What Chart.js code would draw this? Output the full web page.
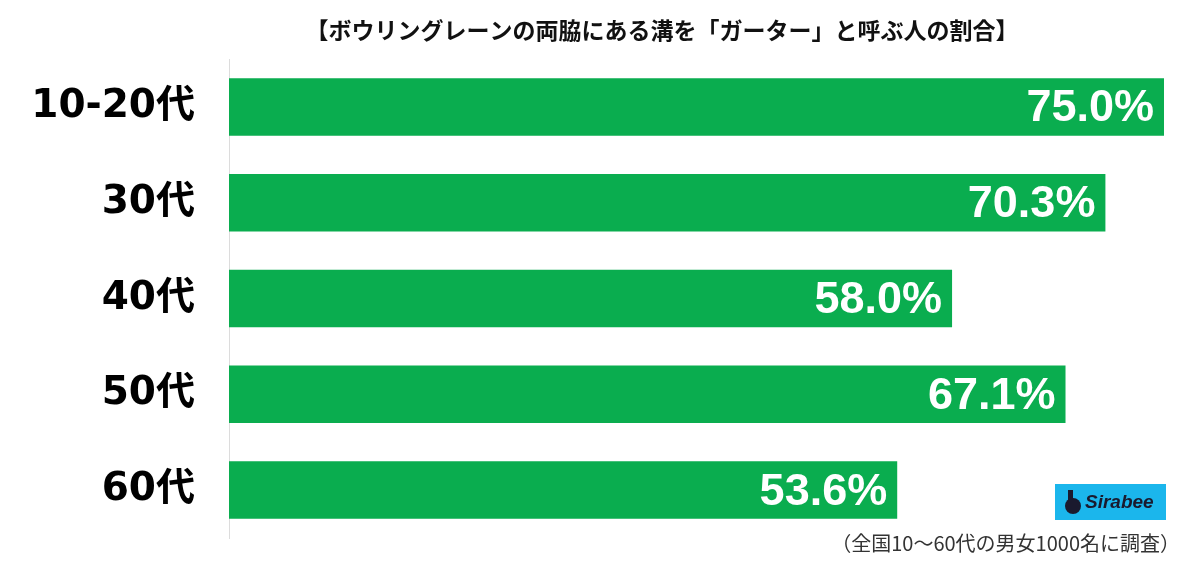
<!DOCTYPE html>
<html>
<head>
<meta charset="utf-8">
<script src="https://cdn.jsdelivr.net/npm/chart.js@4"></script>
<style>
  html, body { margin: 0; padding: 0; background: #fff; }
  #wrap { width: 1200px; height: 563px; position: relative; }
</style>
</head>
<body>
<div id="wrap"><canvas id="chart" width="1200" height="563"></canvas></div>
<script>
// data
const categories = ['10-20代', '30代', '40代', '50代', '60代'];
const values = [75.0, 70.3, 58.0, 67.1, 53.6];
const titleText = '【ボウリングレーンの両脇にある溝を「ガーター」と呼ぶ人の割合】';
const noteText = '（全国10～60代の男女1000名に調査）';

const barColor = '#0aad4f';
const jpFont = '"Noto Sans CJK JP", "Noto Sans", sans-serif';

// value labels inside bar ends
const valueLabels = {
    id: 'valueLabels',
    afterDatasetsDraw(chart) {
        const ctx = chart.ctx;
        const meta = chart.getDatasetMeta(0);
        ctx.save();
        ctx.fillStyle = '#ffffff';
        ctx.font = 'bold 45px "Liberation Sans", Arial, sans-serif';
        ctx.textAlign = 'right';
        ctx.textBaseline = 'middle';
        meta.data.forEach((bar, i) => {
            ctx.fillText(values[i].toFixed(1) + '%', bar.x - 10, bar.y + 2);
        });
        ctx.restore();
    }
};

// title, footnote, logo
const extras = {
    id: 'extras',
    afterDraw(chart) {
        const ctx = chart.ctx;
        ctx.save();
        ctx.fillStyle = '#111';
        ctx.font = 'bold 23px ' + jpFont;
        ctx.textAlign = 'center';
        ctx.textBaseline = 'middle';
        ctx.fillText(titleText, 662, 30);

        ctx.font = '20px ' + jpFont;
        ctx.textAlign = 'right';
        ctx.fillStyle = '#333';
        ctx.fillText(noteText, 1180, 543);

        // Sirabee logo
        ctx.fillStyle = '#1bb6ec';
        ctx.fillRect(1055, 484, 111, 36);
        ctx.fillStyle = '#1a1a2e';
        ctx.beginPath();
        ctx.arc(1073, 506, 8, 0, Math.PI * 2);
        ctx.fill();
        ctx.fillRect(1068, 490, 5, 12);
        ctx.font = 'italic bold 19px "Liberation Sans", Arial, sans-serif';
        ctx.textAlign = 'left';
        ctx.fillText('Sirabee', 1085, 503);
        ctx.restore();
    }
};

new Chart(document.getElementById('chart'), {
    type: 'bar',
    data: {
        labels: categories,
        datasets: [{
            data: values,
            backgroundColor: barColor,
            categoryPercentage: 0.6,
            barPercentage: 1.0
        }]
    },
    options: {
        indexAxis: 'y',
        responsive: false,
        animation: false,
        layout: {
            padding: { top: 59, bottom: 25, right: 36, left: 0 }
        },
        scales: {
            x: {
                display: false,
                min: 0,
                max: 75
            },
            y: {
                afterFit(scale) {
                    scale.width = 229;
                    scale.paddingTop = 0;
                    scale.paddingBottom = 0;
                },
                grid: { display: false, drawTicks: false },
                border: { display: true, color: '#dcdcdc', width: 1 },
                ticks: {
                    color: '#000',
                    padding: 34,
                    font: { family: '"DejaVu Sans", ' + jpFont, size: 39, weight: 'bold' }
                }
            }
        },
        plugins: {
            legend: { display: false },
            tooltip: { enabled: false }
        }
    },
    plugins: [valueLabels, extras]
});
</script>
</body>
</html>
